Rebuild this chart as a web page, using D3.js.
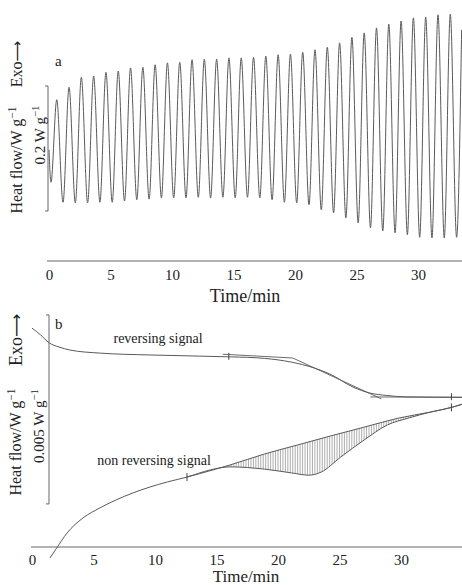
<!DOCTYPE html>
<html><head><meta charset="utf-8">
<script src="https://cdn.jsdelivr.net/npm/d3@7"></script>
<style>
html,body{margin:0;padding:0;background:#fff;}
svg text{font-family:"Liberation Serif","Times New Roman",serif;fill:#222;}
</style></head>
<body>
<svg id="c" width="462" height="585"></svg>
<script>
// ---------- Panel a: modulated heat flow (W/g), extremes of the oscillation ----------
const aStart = [0, 0.178];
const aEnd = [33.55, 0.370];
const aPeakTimes = [0.63,1.63,2.63,3.63,4.63,5.63,6.63,7.63,8.63,9.63,10.63,11.63,12.63,13.63,14.63,15.63,16.63,17.63,18.63,19.63,20.63,21.63,22.63,23.63,24.63,25.63,26.63,27.63,28.63,29.63,30.63,31.63,32.63];
const aPeakValues = [0.258,0.278,0.294,0.296,0.302,0.304,0.309,0.310,0.314,0.317,0.318,0.322,0.323,0.323,0.325,0.325,0.326,0.328,0.330,0.331,0.334,0.338,0.342,0.349,0.358,0.365,0.373,0.379,0.384,0.389,0.390,0.394,0.395];
const aTroughTimes = [0.16,1.14,2.14,3.14,4.14,5.14,6.14,7.14,8.14,9.14,10.14,11.14,12.14,13.14,14.14,15.14,16.14,17.14,18.14,19.14,20.14,21.14,22.14,23.14,24.14,25.14,26.14,27.14,28.14,29.14,30.14,31.14,32.14,33.14];
const aTroughValues = [0.126,0.094,0.093,0.093,0.094,0.094,0.096,0.098,0.099,0.101,0.101,0.101,0.102,0.101,0.102,0.101,0.102,0.101,0.098,0.094,0.093,0.090,0.082,0.077,0.069,0.061,0.053,0.048,0.045,0.042,0.038,0.037,0.037,0.038];
const aTickLabels = [0,5,10,15,20,25,30];

// ---------- Panel b: heat flow (mW/g) ----------
const revTimes  = [0,0.7,1.4,2.2,3.1,5.5,9.6,13.6,16.2,18.9,21.1,22.9,24.2,26.1,27.5,28.8,30.5,35];
const revValues = [5.79,5.61,5.40,5.29,5.21,5.13,5.08,5.05,5.03,4.99,4.89,4.74,4.58,4.23,4.07,4.01,3.97,3.96];
const revTangentTimes  = [15.5,21.2,28.4];
const revTangentValues = [5.10,5.00,3.92];
const revEndTimes  = [27.5,35];
const revEndValues = [3.97,3.96];
const revMarks = [16.0,34.1];

const nonrevTimes  = [1.46,2.0,2.85,4.15,5.5,8.2,11.0,12.6,14.5,16.1,18.9,21.1,22.5,23.5,25.1,27.0,28.9,30.6,32.4,34.2,35];
const nonrevValues = [-0.29,-0.03,0.37,0.77,1.03,1.43,1.72,1.85,2.04,2.12,2.06,1.96,1.90,1.98,2.38,2.83,3.23,3.41,3.57,3.70,3.78];
const baseTimes  = [12.6,16.1,18.9,21.6,24.3,27.0,29.8,32.4,34.2,35];
const baseValues = [1.85,2.17,2.46,2.70,2.94,3.17,3.41,3.57,3.70,3.78];
const nonrevMarks = [12.6,34.1];
const bTickLabels = [0,5,10,15,20,25,30];

const svg = d3.select("#c");
const stroke = "#5a5a5a";

// ================= Panel a =================
const xa = d3.scaleLinear().domain([0,33.5]).range([49,461]);
const ya = d3.scaleLinear().domain([0,0.4]).range([261,11]);
let aPts = [aStart];
aPeakTimes.forEach((t,i)=>aPts.push([t,aPeakValues[i]]));
aTroughTimes.forEach((t,i)=>aPts.push([t,aTroughValues[i]]));
aPts.push(aEnd);
aPts.sort((p,q)=>p[0]-q[0]);
const lineA = d3.line().x(d=>xa(d[0])).y(d=>ya(d[1])).curve(d3.curveMonotoneX);
svg.append("path").attr("d",lineA(aPts)).attr("fill","none").attr("stroke",stroke).attr("stroke-width",1);

// axis a
const gxa = svg.append("g").attr("transform","translate(0,261)");
gxa.call(d3.axisBottom(xa).tickValues(d3.range(0,34,1)).tickSize(-3).tickSizeOuter(0).tickFormat(""));
gxa.call(d3.axisBottom(xa).tickValues(aTickLabels).tickSize(0).tickPadding(8).tickFormat(d3.format("d")))
gxa.selectAll(".domain").attr("d","M47,0H462").attr("stroke","#666");
gxa.selectAll(".tick line").attr("stroke","#666");
gxa.selectAll("text").attr("font-size",15).attr("fill","#222").attr("font-family","Liberation Serif");
svg.append("text").attr("x",245).attr("y",302).attr("text-anchor","middle").attr("font-size",18).text("Time/min");

// scale bar a (0.2 W/g)
const sbA = [0.08,0.28];
svg.append("path").attr("d",`M45,${ya(sbA[1])}H48V${ya(sbA[0])}H45`).attr("fill","none").attr("stroke","#666");
svg.append("text").attr("x",55).attr("y",66).attr("font-size",15).text("a");

function vlabel(x,y,size,parts){
  const t = svg.append("text").attr("transform",`translate(${x},${y}) rotate(-90)`).attr("text-anchor","middle").attr("font-size",size);
  parts.forEach(p=>{
    const ts = t.append("tspan").text(p[0]);
    if(p[1]==="sup") ts.attr("font-size",size*0.72).attr("dy",-size*0.4);
    if(p[1]==="arrow") ts.attr("font-family","DejaVu Sans").attr("font-size",size*0.9);
  });
  return t;
}
vlabel(22,64,16,[["Exo"],["\u27F6","arrow"]]);
vlabel(22,160,16,[["Heat flow/W g"],["\u22121","sup"]]);
vlabel(45,135,15,[["0.2 W g"],["\u22121","sup"]]);

// ================= Panel b =================
const xb = d3.scaleLinear().domain([0,35]).range([32,462.5]);
const yb = d3.scaleLinear().domain([0,6]).range([547,320.2]);
const lineB = d3.line().x(d=>xb(d[0])).y(d=>yb(d[1])).curve(d3.curveMonotoneX);
const zip = (a,b)=>a.map((t,i)=>[t,b[i]]);
const rev = zip(revTimes,revValues);
const nonrev = zip(nonrevTimes,nonrevValues);
const base = zip(baseTimes,baseValues);

// hatching between baseline and non-reversing signal
const defs = svg.append("defs");
defs.append("clipPath").attr("id","clipBelowBase").append("path")
  .attr("d",d3.area().x(d=>xb(d[0])).y0(d=>yb(d[1])).y1(600).curve(d3.curveMonotoneX)(base));
defs.append("clipPath").attr("id","clipAboveSig").append("path")
  .attr("d",d3.area().x(d=>xb(d[0])).y0(0).y1(d=>yb(d[1])).curve(d3.curveMonotoneX)(nonrev));
const hatch = svg.append("g").attr("clip-path","url(#clipBelowBase)").append("g").attr("clip-path","url(#clipAboveSig)");
hatch.selectAll("line").data(d3.range(13.0,33.5,0.2)).join("line")
  .attr("x1",d=>xb(d)).attr("x2",d=>xb(d)).attr("y1",380).attr("y2",520)
  .attr("stroke","#777").attr("stroke-width",0.6);

svg.append("path").attr("d",lineB(rev)).attr("fill","none").attr("stroke",stroke).attr("stroke-width",1);
svg.append("path").attr("d",d3.line().x(d=>xb(d[0])).y(d=>yb(d[1]))(zip(revTangentTimes,revTangentValues))).attr("fill","none").attr("stroke",stroke).attr("stroke-width",0.9);
svg.append("path").attr("d",d3.line().x(d=>xb(d[0])).y(d=>yb(d[1]))(zip(revEndTimes,revEndValues))).attr("fill","none").attr("stroke",stroke).attr("stroke-width",0.9);
svg.append("path").attr("d",lineB(nonrev)).attr("fill","none").attr("stroke",stroke).attr("stroke-width",1);
svg.append("path").attr("d",lineB(base)).attr("fill","none").attr("stroke",stroke).attr("stroke-width",1);

// vertical marks
function interp(ts,vs,t){return d3.scaleLinear().domain(ts).range(vs).clamp(true)(t);}
revMarks.forEach(t=>{const y=yb(interp(revTimes,revValues,t));
  svg.append("line").attr("x1",xb(t)).attr("x2",xb(t)).attr("y1",y-4).attr("y2",y+3).attr("stroke","#444");});
nonrevMarks.forEach(t=>{const y=yb(interp(baseTimes,baseValues,t));
  svg.append("line").attr("x1",xb(t)).attr("x2",xb(t)).attr("y1",y-4).attr("y2",y+4).attr("stroke","#444");});

// axis b
const gxb = svg.append("g").attr("transform","translate(0,547)");
gxb.call(d3.axisBottom(xb).tickValues(d3.range(0,36,1)).tickSize(-3).tickSizeOuter(0).tickFormat(""));
gxb.call(d3.axisBottom(xb).tickValues(bTickLabels).tickSize(0).tickPadding(7).tickFormat(d3.format("d")));
gxb.selectAll(".domain").attr("d","M31,0H462").attr("stroke","#666");
gxb.selectAll(".tick line").attr("stroke","#666");
gxb.selectAll("text").attr("font-size",15).attr("fill","#222").attr("font-family","Liberation Serif");
svg.append("text").attr("x",246).attr("y",582).attr("text-anchor","middle").attr("font-size",17).text("Time/min");

// scale bar b (0.005 W/g = 5 mW/g)
const sbB = [1.14,6.14];
svg.append("path").attr("d",`M46,${yb(sbB[1])}H49V${yb(sbB[0])}H46`).attr("fill","none").attr("stroke","#666");
svg.append("text").attr("x",55).attr("y",329).attr("font-size",15).text("b");
vlabel(22,340,18,[["Exo"],["\u27F6","arrow"]]);
vlabel(21,442,16,[["Heat flow/W g"],["\u22121","sup"]]);
vlabel(44,426,15,[["0.005 W g"],["\u22121","sup"]]);

svg.append("text").attr("x",158).attr("y",343).attr("text-anchor","middle").attr("font-size",14).text("reversing signal");
svg.append("text").attr("x",154).attr("y",465).attr("text-anchor","middle").attr("font-size",14).text("non reversing signal");
</script>
</body></html>
